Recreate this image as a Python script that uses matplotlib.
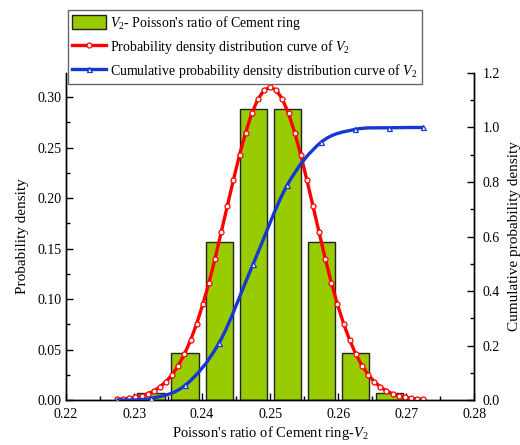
import numpy as np
import matplotlib
matplotlib.use("Agg")
import matplotlib.pyplot as plt
from matplotlib.path import Path
from matplotlib.patches import PathPatch, Patch
from matplotlib.lines import Line2D
from matplotlib.ticker import MultipleLocator

plt.rcParams['font.family'] = ['Liberation Serif', 'DejaVu Serif']
plt.rcParams['mathtext.fontset'] = 'custom'
plt.rcParams['mathtext.rm'] = 'Liberation Serif'
plt.rcParams['mathtext.it'] = 'Liberation Serif:italic'

# histogram of Poisson's ratio V2 (bin centres, probability per bin)
bin_centers = [0.2325, 0.2375, 0.2425, 0.2475, 0.2525, 0.2575, 0.2625, 0.2675]
bin_probs = [0.0065, 0.047, 0.157, 0.288, 0.288, 0.157, 0.047, 0.0065]

# probability density curve
pdf_x_start = 0.2275
pdf_x_step = 0.0009
pdf_half = [0.0007, 0.0011, 0.0017, 0.0027, 0.0041, 0.0061, 0.0090, 0.0130,
            0.0183, 0.0252, 0.0342, 0.0454, 0.0592, 0.0756, 0.0947, 0.116,
            0.140, 0.166, 0.192, 0.218, 0.243, 0.265, 0.284, 0.298, 0.307]
pdf_peak = 0.310
pdf_y = pdf_half + [pdf_peak] + pdf_half[::-1]
pdf_x = [pdf_x_start + i * pdf_x_step for i in range(len(pdf_y))]

# cumulative curve (blue triangles)
cdf_x = [0.2275, 0.2325, 0.2375, 0.2425, 0.2475, 0.2525, 0.2575, 0.2625, 0.2675, 0.2725]
cdf_y = [0.0, 0.006, 0.054, 0.210, 0.499, 0.788, 0.946, 0.993, 0.999, 1.0]

green = '#99CC00'
red = '#FF0000'
blue = '#1638D2'


def smooth_path(x, y):
    # Catmull-Rom style bezier through the points (Origin "spline" connection)
    x = np.asarray(x, float)
    y = np.asarray(y, float)
    verts = [(x[0], y[0])]
    codes = [Path.MOVETO]
    n = len(x)
    for i in range(n - 1):
        x0, y0 = (x[i - 1], y[i - 1]) if i > 0 else (x[i], y[i])
        x3, y3 = (x[i + 2], y[i + 2]) if i + 2 < n else (x[i + 1], y[i + 1])
        c1 = (x[i] + (x[i + 1] - x0) / 6, y[i] + (y[i + 1] - y0) / 6)
        c2 = (x[i + 1] - (x3 - x[i]) / 6, y[i + 1] - (y3 - y[i]) / 6)
        verts += [c1, c2, (x[i + 1], y[i + 1])]
        codes += [Path.CURVE4] * 3
    return Path(verts, codes)


fig = plt.figure(figsize=(5.2, 4.45), dpi=100)
ax = fig.add_axes([0.127, 0.101, 0.785, 0.735])
ax2 = ax.twinx()

ax.bar(bin_centers, bin_probs, width=0.004, color=green, edgecolor='#222222',
       linewidth=1.0, zorder=2)
ax.plot(pdf_x, pdf_y, color=red, lw=2.4, marker='o', ms=3.6, mfc='white',
        mec=red, mew=0.9, zorder=4)

ax2.add_patch(PathPatch(smooth_path(cdf_x, cdf_y), facecolor='none',
                        edgecolor=blue, lw=2.4, zorder=3))
ax2.plot(cdf_x, cdf_y, ls='none', marker='^', ms=3.6, mfc='white', mec=blue,
         mew=0.9, zorder=5)

ax.set_xlim(0.22, 0.28)
ax.set_ylim(0, 0.324)
ax2.set_ylim(0, 1.2)

ax.xaxis.set_major_locator(MultipleLocator(0.01))
ax.xaxis.set_minor_locator(MultipleLocator(0.005))
ax.yaxis.set_major_locator(MultipleLocator(0.05))
ax.yaxis.set_minor_locator(MultipleLocator(0.025))
ax2.yaxis.set_major_locator(MultipleLocator(0.2))
ax2.yaxis.set_minor_locator(MultipleLocator(0.1))
ax.xaxis.set_major_formatter(plt.FuncFormatter(lambda v, p: f'{v:.2f}'))
ax.yaxis.set_major_formatter(plt.FuncFormatter(lambda v, p: f'{v:.2f}'))
ax2.yaxis.set_major_formatter(plt.FuncFormatter(lambda v, p: f'{v:.1f}'))

for a in (ax, ax2):
    a.spines['top'].set_visible(False)
    for s in a.spines.values():
        s.set_linewidth(1.0)
    a.tick_params(which='both', direction='in', labelsize=10, width=1.0)
    a.tick_params(which='major', length=5)
    a.tick_params(which='minor', length=3)
ax.tick_params(axis='x', which='both', top=False, pad=6)
ax2.tick_params(axis='y', pad=6)

ax.set_xlabel("Poisson's ratio of Cement ring-$V_2$", fontsize=10.5, labelpad=2)
ax.set_ylabel("Probability density", fontsize=11, labelpad=6)
ax2.set_ylabel("Cumulative probability density", fontsize=11, labelpad=6)

handles = [
    Patch(facecolor=green, edgecolor='#222222', linewidth=1.0),
    Line2D([], [], color=red, lw=2.4, marker='o', ms=3.6, mfc='white', mec=red, mew=0.9),
    Line2D([], [], color=blue, lw=2.4, marker='^', ms=3.6, mfc='white', mec=blue, mew=0.9),
]
labels = ["$V_2$- Poisson's ratio of Cement ring",
          "Probability density distribution curve of $V_2$",
          "Cumulative probability density distribution curve of $V_2$"]
leg = fig.legend(handles, labels, loc='upper left', bbox_to_anchor=(0.131, 0.978),
                 fontsize=10, frameon=True, fancybox=False, framealpha=1,
                 edgecolor='#666666', handlelength=2.4, handleheight=1.2,
                 handletextpad=0.3, labelspacing=0.42, borderpad=0.3,
                 borderaxespad=0)
leg.get_frame().set_linewidth(1.0)
leg.set_zorder(10)

fig.savefig('out.png', dpi=100)
